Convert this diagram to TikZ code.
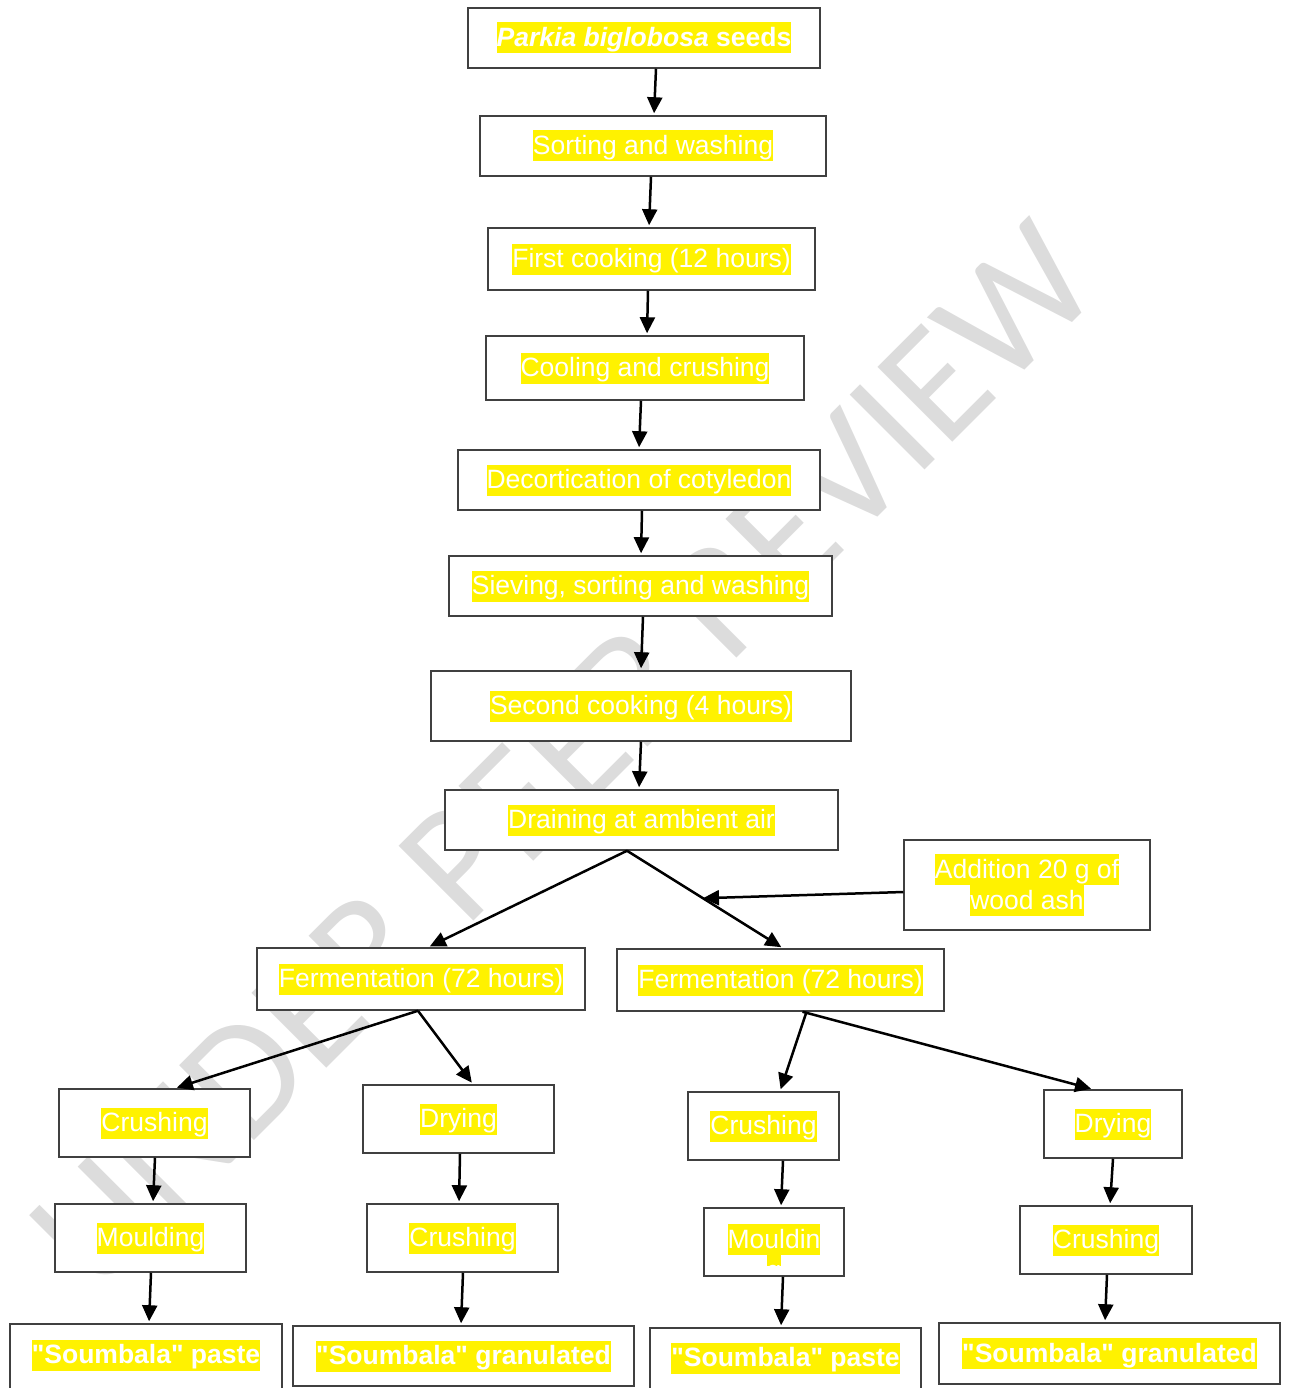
\documentclass[tikz,border=0pt]{standalone}
\usepackage{fontspec}
\setmainfont{Liberation Sans}
\newfontfamily\wmfont{Carlito}
\usetikzlibrary{arrows.meta}
\definecolor{boxgray}{RGB}{64,64,64}
\definecolor{wmgray}{RGB}{220,220,220}
\newcommand{\yhl}[1]{{\setlength{\fboxsep}{0pt}\colorbox{yellow}{\rule[-7pt]{0pt}{31pt}#1}}}

\begin{document}
\begin{tikzpicture}[x=1pt, y=-1pt,
  stage/.style={draw=boxgray, line width=1.5pt, fill=white, inner sep=0pt,
    align=center, text=white, font=\fontsize{26.5}{31}\selectfont},
  midtext/.style={},
  hightext/.style={text depth=21pt},
  flow/.style={-{Triangle[length=16pt, width=15pt]}, line width=2.5pt, shorten >=2pt},
  watermark/.style={text=wmgray, rotate=45, inner sep=0pt,
    font=\wmfont\fontsize{165}{165}\selectfont}]
\useasboundingbox (0,0) rectangle (1290,1388);
% Watermark behind the chart
\node[watermark] (wm) at (564,757) {UNDER PEER REVIEW};
% The boxes, given by their corners
\foreach \n/\xa/\ya/\xb/\yb/\s/\t in {
  seeds/468/8/820/68/midtext/{\bfseries\yhl{\textit{Parkia biglobosa} seeds}},
  sort/480/116/826/176/midtext/{\yhl{Sorting and washing}},
  cook1/488/228/815/290/midtext/{\yhl{First cooking (12 hours)}},
  cool/486/336/804/400/midtext/{\yhl{Cooling and crushing}},
  decort/458/450/820/510/midtext/{\yhl{Decortication of cotyledon}},
  sieve/449/556/832/616/midtext/{\yhl{Sieving, sorting and washing}},
  cook2/431/671/851/741/midtext/{\yhl{Second cooking (4 hours)}},
  drain/445/790/838/850/midtext/{\yhl{Draining at ambient air}},
  ash/904/840/1150/930/midtext/{\yhl{Addition 20 g of}\\\yhl{wood ash}},
  ferm1/257/948/585/1010/midtext/{\yhl{Fermentation (72 hours)}},
  ferm2/617/949/944/1011/midtext/{\yhl{Fermentation (72 hours)}},
  crush1/59/1089/250/1157/midtext/{\yhl{Crushing}},
  dry1/363/1085/554/1153/midtext/{\yhl{Drying}},
  crush2/688/1092/839/1160/midtext/{\yhl{Crushing}},
  dry2/1044/1090/1182/1158/midtext/{\yhl{Drying}},
  mould1/55/1204/246/1272/midtext/{\yhl{Moulding}},
  crush3/367/1204/558/1272/midtext/{\yhl{Crushing}},
  crush4/1020/1206/1192/1274/midtext/{\yhl{Crushing}},
  paste1/10/1324/282/1400/hightext/{\bfseries\yhl{\textquotedbl Soumbala\textquotedbl{} paste}},
  granul1/293/1326/634/1386/midtext/{\bfseries\yhl{\textquotedbl Soumbala\textquotedbl{} granulated}},
  paste2/650/1328/921/1402/hightext/{\bfseries\yhl{\textquotedbl Soumbala\textquotedbl{} paste}},
  granul2/939/1323/1280/1384/midtext/{\bfseries\yhl{\textquotedbl Soumbala\textquotedbl{} granulated}}} {
  \node[stage, \s, minimum width={\xb-\xa}, minimum height={\yb-\ya}]
    (\n) at ({(\xa+\xb)/2},{(\ya+\yb)/2}) {\t};
}
% Moulding box whose text runs over its lower edge
\node[stage, minimum width=140pt, minimum height=68pt] (mould2) at (774,1242) {};
\begin{scope}
  \clip (mould2.north west) rectangle ([yshift=11pt]mould2.south east);
  \node[stage, draw=none, fill=none] (mould2txt) at (774,1255) {\yhl{Mouldin}\\\yhl{g}};
\end{scope}
% Arrows from box to box
\foreach \a/\sa/\b/\sb in {
  seeds/12/sort/1, sort/-2/cook1/-2.5, cook1/-3.5/cool/2, cool/-4/decort/0,
  decort/3/sieve/0.5, sieve/2.5/cook2/0, cook2/0/drain/-2.5,
  drain/-14.5/ferm1/7,
  ferm1/-3/crush1/20.5, ferm1/-3/dry1/14.5,
  ferm2/26/crush2/16.5, ferm2/22/dry2/-20,
  crush1/0.5/mould1/2.5, dry1/1.5/crush3/-3.5,
  crush2/19.5/mould2/7, dry2/0/crush4/4,
  mould1/0.5/paste1/3, crush3/0.5/granul1/-2.5,
  mould2/9/paste2/-4.5, crush4/1/granul2/-4.5} {
  \draw[flow] ([xshift=\sa]\a.south) -- ([xshift=\sb]\b.north);
}
% Right branch and the wood ash joining it
\draw[flow] ([xshift=-14.5]drain.south) -- coordinate[pos=0.487] (join) ([xshift=2.5]ferm2.north);
\draw[flow, shorten >=0pt] ([yshift=-7pt]ash.west) -- (join);
\end{tikzpicture}
\end{document}
